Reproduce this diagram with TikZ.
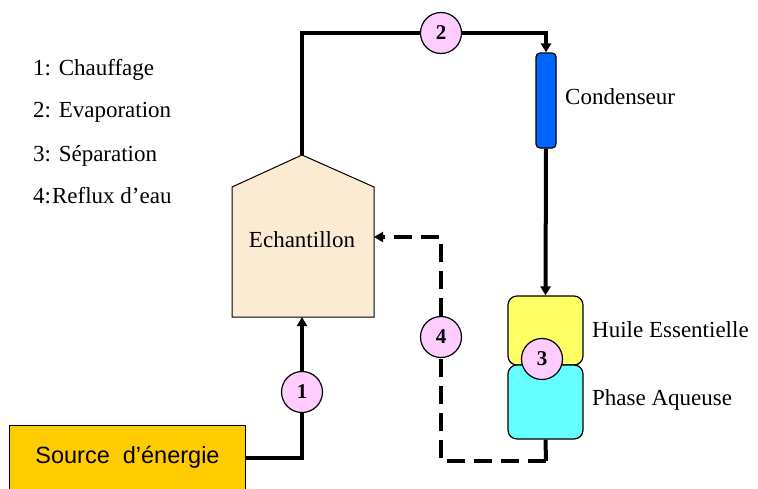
\documentclass[tikz,border=0pt]{standalone}
\usepackage{fontspec}
\setmainfont{Liberation Serif}
\newfontfamily\arialfont{Liberation Sans}
\usetikzlibrary{arrows.meta}
\definecolor{pinkc}{HTML}{FFCCFF}
\definecolor{srcfill}{HTML}{FFCC00}
\definecolor{echfill}{HTML}{FBEBD3}
\definecolor{condfill}{HTML}{0066FF}
\definecolor{oilfill}{HTML}{FFFF66}
\definecolor{aqfill}{HTML}{66FFFF}
\newcommand\txtfont{\fontsize{23}{27}\selectfont}
\tikzset{
  numc/.style={circle, draw, line width=1.2pt, fill=pinkc, minimum size=41pt, inner sep=0pt,
    font=\fontsize{21}{21}\selectfont\bfseries},
  pipe/.style={line width=4pt},
  flow/.style={pipe, -{Triangle[length=9pt,width=10pt]}},
  dashpipe/.style={pipe, dash pattern=on 18pt off 9pt},
  lbl/.style={anchor=west, inner sep=0pt, font=\txtfont},
  legend/.style={anchor=base west, inner sep=0pt, font=\txtfont},
  layer/.style={draw, line width=1.2pt, rounded corners=9pt, minimum width=75pt, inner sep=0pt}
}
\begin{document}
\begin{tikzpicture}[x=1pt,y=-1pt]
\useasboundingbox (0,0) rectangle (758,488);

% legend
\node[legend] (l1) at (33,75) {1: Chauffage};
\node[legend] (l2) at (33,117) {2: Evaporation};
\node[legend] (l3) at (33,161) {3: Séparation};
\node[legend] (l4) at (33,203) {4:\hspace{1pt}Reflux d’eau};

% echantillon
\draw[fill=echfill, line width=1pt] (232,187) -- (302,155) -- (374,187) -- (374,317) -- (232,317) -- cycle;
\coordinate (echtop) at (302,155);
\coordinate (echbot) at (302,317);
\coordinate (echright) at (374,237);
\node[font=\txtfont] (ech) at (302,240) {Echantillon};

% condenser
\node[draw, line width=1.2pt, fill=condfill, rounded corners=4pt, minimum width=20pt, minimum height=95pt,
  inner sep=0pt] (cond) at (546,100.5) {};
\node[lbl] (condlbl) at (565,97) {Condenseur};

% separator
\node[layer, fill=oilfill, minimum height=69pt] (oil) at (545.5,330.5) {};
\node[layer, fill=aqfill, minimum height=74pt] (aq) at (545.5,402) {};
\node[lbl] (oillbl) at (592,330) {Huile Essentielle};
\node[lbl] (aqlbl) at (592,400) {Phase Aqueuse};

% source
\node[draw, line width=1pt, fill=srcfill, minimum width=236pt, minimum height=64pt, anchor=north west,
  font=\arialfont\fontsize{23.5}{27}\selectfont] (src) at (9,425) {Source\ \ d’énergie};

% number circles
\node[numc] (c1) at (302,392) {1};
\node[numc] (c2) at (441,33) {2};
\node[numc] (c3) at (542,359) {3};
\node[numc] (c4) at (441,337) {4};

\coordinate (bend) at (546,461);

% connectors
\draw[pipe] (src.east) -| (c1.south);
\draw[flow] (c1.north) -- (echbot);
\draw[pipe] (echtop) |- (c2.west);
\draw[flow] (c2.east) -| (cond.north);
\draw[flow] (cond.south) -- (oil.north);
\draw[pipe] (aq.south) -- (bend);
\draw[dashpipe] (bend) -| (c4.south);
\draw[dashpipe, -{Triangle[length=9pt,width=10pt]}] (c4.north) |- (echright);
\end{tikzpicture}
\end{document}
